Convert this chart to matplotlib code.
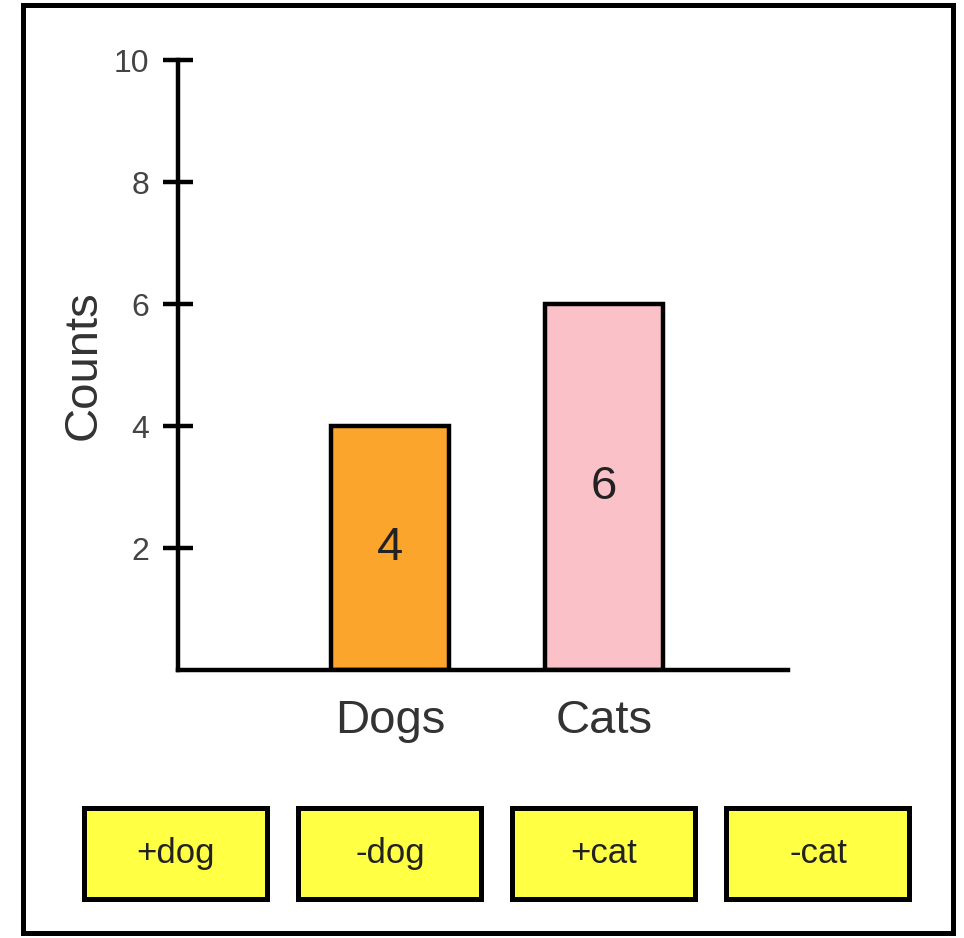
import matplotlib.pyplot as plt
from matplotlib.patches import Rectangle

plt.rcParams['font.family'] = ['Liberation Sans', 'DejaVu Sans']

categories = ['Dogs', 'Cats']
counts = [4, 6]
bar_colors = ['#fba52c', '#fbc1c9']
y_ticks = [2, 4, 6, 8, 10]
buttons = ['+dog', '-dog', '+cat', '-cat']

W, H = 964, 938
fig = plt.figure(figsize=(W / 100, H / 100), dpi=100)

# main bar chart, laid out in pixel units
ax = fig.add_axes([178 / W, 1 - 670 / H, 610 / W, 610 / H])
x = list(range(len(categories)))
ax.bar(x, counts, width=0.55, color=bar_colors, edgecolor='black', linewidth=3.2)
for xi, v in zip(x, counts):
    ax.text(xi, v / 2, str(v), ha='center', va='center', fontsize=34, color='#222222')

ax.set_xlim(-0.99, 1.86)
ax.set_ylim(0, 10)
ax.set_xticks(x, categories)
ax.set_yticks(y_ticks)
ax.tick_params(axis='x', length=0, pad=21, labelsize=34, labelcolor='#333333')
ax.tick_params(axis='y', direction='inout', length=21, width=3.2, pad=10,
               labelsize=23, labelcolor='#444444')
ax.set_ylabel('Counts', fontsize=34, color='#333333', labelpad=6)
for side in ['top', 'right']:
    ax.spines[side].set_visible(False)
for side in ['left', 'bottom']:
    ax.spines[side].set_linewidth(3.2)

# row of buttons under the chart, lined up with the bar positions
ax_btn = fig.add_axes([178 / W, 1 - 899 / H, 610 / W, 91 / H])
ax_btn.set_xlim(ax.get_xlim())
ax_btn.set_ylim(0, 1)
ax_btn.axis('off')
bw = 0.855
for i, label in enumerate(buttons):
    cx = i - 1
    ax_btn.add_patch(Rectangle((cx - bw / 2, 0), bw, 1, facecolor='#ffff44',
                               edgecolor='black', linewidth=3.6, clip_on=False))
    ax_btn.text(cx, 0.5, label, ha='center', va='center', fontsize=25, color='#222222')

# outer frame
fig.patches.append(Rectangle((22.5 / W, 1 - 933 / H), (953 - 22.5) / W, (933 - 5.5) / H,
                             transform=fig.transFigure, fill=False,
                             edgecolor='black', linewidth=3.6))

fig.savefig('out.png', dpi=100)
